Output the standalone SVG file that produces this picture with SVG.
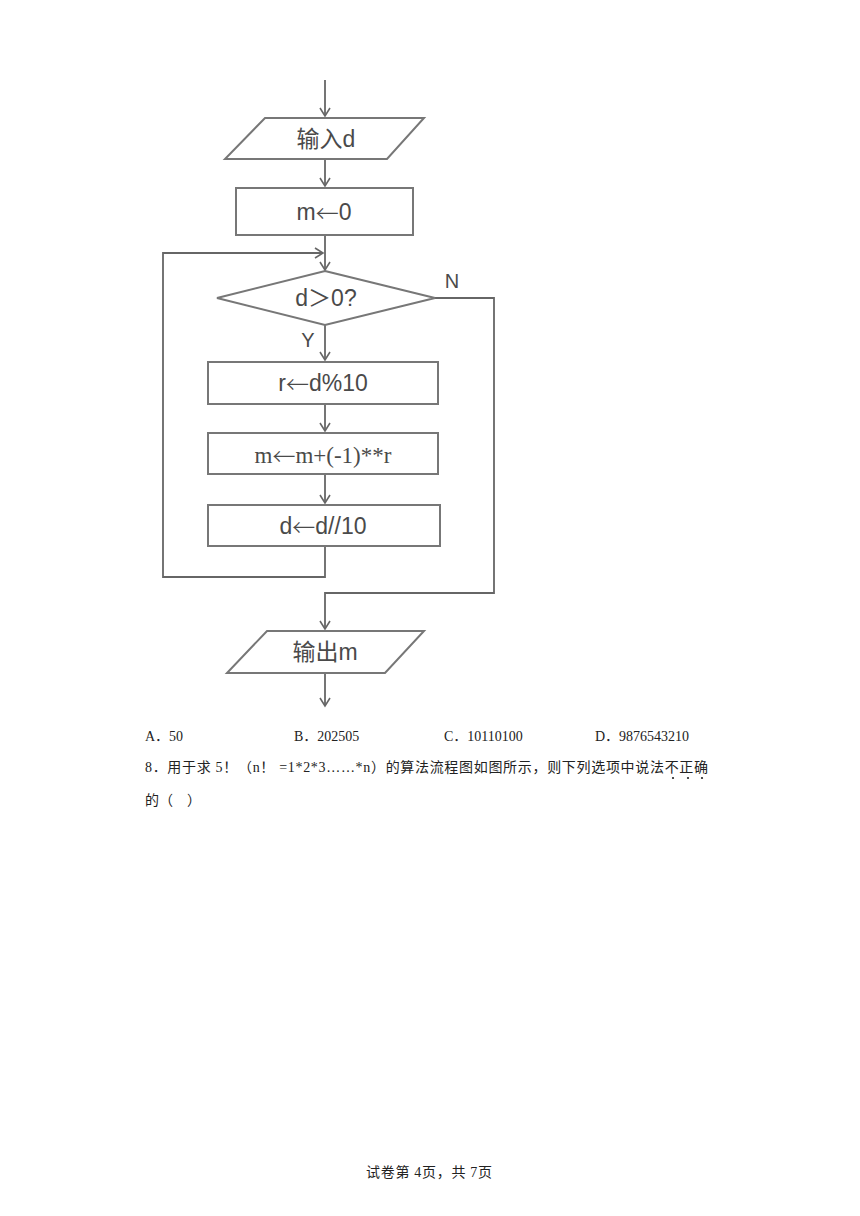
<svg xmlns="http://www.w3.org/2000/svg" width="860" height="1216" viewBox="0 0 860 1216">
<style>
.shape{fill:#fff;stroke:#777;stroke-width:2}
.conn{fill:none;stroke:#666;stroke-width:1.8}
.lbl{font-family:"Liberation Sans","Noto Sans CJK SC",sans-serif;font-size:23px;fill:#4a4a4a;text-anchor:middle;dominant-baseline:central}
.ar{font-family:"Noto Sans CJK SC",sans-serif;font-weight:300}
.ser{font-family:"Liberation Serif","Noto Sans CJK SC",serif}
.doc{font-family:"Liberation Serif","Noto Sans CJK SC",serif;font-size:14px;fill:#222}
</style>
<defs>
<marker id="ah" markerWidth="14" markerHeight="14" refX="10" refY="6" orient="auto" markerUnits="userSpaceOnUse">
<polyline points="2,1 10,6 2,11" fill="none" stroke="#666" stroke-width="1.6"/>
</marker>
</defs>
<rect width="860" height="1216" fill="#fff"/>
<g id="connectors">
<line class="conn" x1="325" y1="80" x2="325" y2="116" marker-end="url(#ah)"/>
<line class="conn" x1="325" y1="159" x2="325" y2="186" marker-end="url(#ah)"/>
<line class="conn" x1="325" y1="235" x2="325" y2="270" marker-end="url(#ah)"/>
<polyline class="conn" points="325,546 325,577 163,577 163,253 323,253" marker-end="url(#ah)"/>
<line class="conn" x1="325" y1="325" x2="325" y2="360" marker-end="url(#ah)"/>
<line class="conn" x1="325" y1="404" x2="325" y2="431" marker-end="url(#ah)"/>
<line class="conn" x1="325" y1="474" x2="325" y2="503" marker-end="url(#ah)"/>
<polyline class="conn" points="435,298 494,298 494,593 325,593 325,629" marker-end="url(#ah)"/>
<line class="conn" x1="325" y1="673" x2="325" y2="706" marker-end="url(#ah)"/>
<text class="lbl" x="452" y="281" style="font-size:20px">N</text>
<text class="lbl" x="308" y="340" style="font-size:20px">Y</text>
</g>
<g id="input">
<polygon class="shape" points="265,118 424,118 387,159 225,159"/>
<text class="lbl" x="326" y="139">输入d</text>
</g>
<g id="init">
<rect class="shape" x="236" y="188" width="177" height="47"/>
<text class="lbl" x="324" y="212">m<tspan class="ar">←</tspan>0</text>
</g>
<g id="cond">
<polygon class="shape" points="325,271 435,298 325,325 217,298"/>
<text class="lbl" x="326" y="298">d＞0?</text>
</g>
<g id="step1">
<rect class="shape" x="208" y="362" width="230" height="42"/>
<text class="lbl" x="323" y="383">r<tspan class="ar">←</tspan>d%10</text>
</g>
<g id="step2">
<rect class="shape" x="208" y="433" width="230" height="41"/>
<text class="lbl ser" x="323" y="455">m<tspan class="ar">←</tspan>m+(-1)**r</text>
</g>
<g id="step3">
<rect class="shape" x="208" y="505" width="232" height="41"/>
<text class="lbl" x="323" y="526">d<tspan class="ar">←</tspan>d//10</text>
</g>
<g id="output">
<polygon class="shape" points="267,631 424,631 385,673 227,673"/>
<text class="lbl" x="325" y="652">输出m</text>
</g>
<g id="text">
<text class="doc" x="145" y="741">A．50</text>
<text class="doc" x="294" y="741">B．202505</text>
<text class="doc" x="444" y="741">C．10110100</text>
<text class="doc" x="595" y="741">D．9876543210</text>
<text class="doc" x="145" y="772" textLength="563" lengthAdjust="spacing">8．用于求 5！（n！ =1*2*3……*n）的算法流程图如图所示，则下列选项中说法不正确</text>
<circle cx="673" cy="778" r="1.1" fill="#222"/>
<circle cx="688" cy="778" r="1.1" fill="#222"/>
<circle cx="702" cy="778" r="1.1" fill="#222"/>
<text class="doc" x="145" y="805">的（　）</text>
<text class="doc" x="366" y="1177" textLength="126" lengthAdjust="spacing">试卷第 4页，共 7页</text>
</g>
</svg>
